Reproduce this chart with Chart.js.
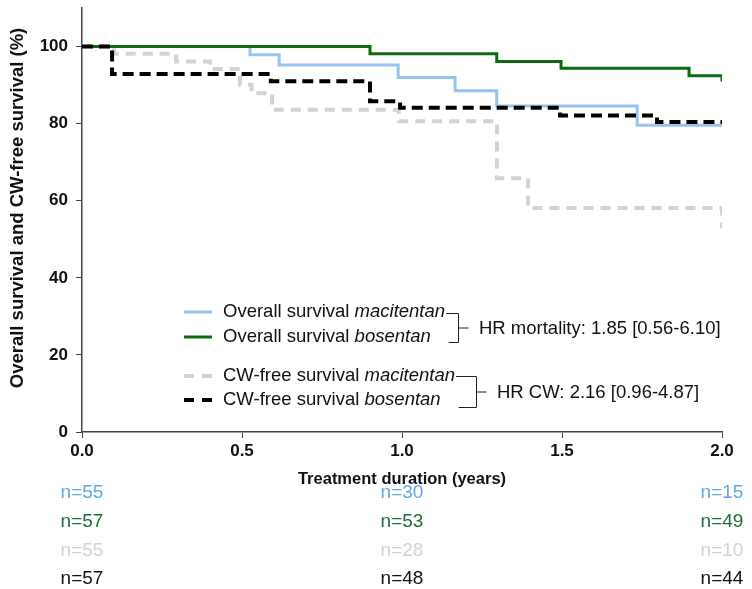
<!DOCTYPE html>
<html>
<head>
<meta charset="utf-8">
<script src="https://cdn.jsdelivr.net/npm/chart.js@4.4.1/dist/chart.umd.min.js"></script>
<style>
    html, body { margin: 0; padding: 0; background: #fff; }
    #survChart { display: block; }
</style>
</head>
<body>
<canvas id="survChart" width="752" height="589"></canvas>
<script>
// Kaplan-Meier steps (time in years, survival in %)
const macOsTime = [0, 0.525, 0.616, 0.988, 1.166, 1.296, 1.735, 2.0];
const macOsSurv = [100, 97.9, 95.2, 92.0, 88.5, 84.6, 79.6, 79.6];
const bosOsTime = [0, 0.9, 1.296, 1.497, 1.897, 2.0];
const bosOsSurv = [100, 98.1, 96.1, 94.4, 92.4, 90.9];
const macCwTime = [0, 0.1, 0.294, 0.4, 0.494, 0.53, 0.594, 0.99, 1.297, 1.394, 2.0];
const macCwSurv = [100, 98.1, 96.1, 94.2, 90.1, 87.9, 83.6, 80.6, 65.8, 58.1, 52.8];
const bosCwTime = [0, 0.094, 0.59, 0.9, 0.994, 1.494, 1.797, 2.0];
const bosCwSurv = [100, 92.9, 91.0, 85.8, 84.1, 82.1, 80.4, 80.4];

// numbers at risk
const riskTimes = [0, 1, 2];
const nMacOs = [55, 30, 15];
const nBosOs = [57, 53, 49];
const nMacCw = [55, 28, 10];
const nBosCw = [57, 48, 44];

const legendLabels = [
    ['Overall survival ', 'macitentan'],
    ['Overall survival ', 'bosentan'],
    ['CW-free survival ', 'macitentan'],
    ['CW-free survival ', 'bosentan'],
];
const hrLabels = ['HR mortality: 1.85 [0.56-6.10]', 'HR CW: 2.16 [0.96-4.87]'];
const yTitle = 'Overall survival and CW-free survival (%)';

const BLUE = '#97c3ef';
const GREEN = '#0c6a10';
const GREY = '#d3d3d3';
const BLACK = '#000000';
const FONT = '"Liberation Sans", Arial, sans-serif';

const toPoints = (times, values) => times.map((t, i) => ({ x: t, y: values[i] }));

const makeSeries = (times, values, color, dash, width, order) => ({
    data: toPoints(times, values),
    borderColor: color,
    borderWidth: width,
    borderDash: dash,
    stepped: 'before',
    pointRadius: 0,
    fill: false,
    order: order,
});

// legend, brackets, y title and risk table drawn on top of the chart
const annotations = {
    id: 'annotations',
    afterDraw(chart) {
        const ctx = chart.ctx;
        const x = chart.scales.x;
        ctx.save();

        // y axis title
        ctx.save();
        ctx.translate(18, 208);
        ctx.rotate(-Math.PI / 2);
        ctx.textAlign = 'center';
        ctx.textBaseline = 'middle';
        ctx.fillStyle = '#111';
        ctx.font = `bold 18.5px ${FONT}`;
        ctx.fillText(yTitle, 0, 0);
        ctx.restore();

        const rowsY = [312, 337, 376, 400];
        const styles = [
            { color: BLUE, dash: [], width: 3 },
            { color: GREEN, dash: [], width: 3 },
            { color: GREY, dash: [10, 8], width: 4 },
            { color: BLACK, dash: [10, 8], width: 4 },
        ];
        const textEnds = [];
        ctx.textBaseline = 'middle';
        legendLabels.forEach((label, i) => {
            const y = rowsY[i];
            ctx.beginPath();
            ctx.setLineDash(styles[i].dash);
            ctx.strokeStyle = styles[i].color;
            ctx.lineWidth = styles[i].width;
            ctx.moveTo(184, y);
            ctx.lineTo(212, y);
            ctx.stroke();
            ctx.setLineDash([]);

            ctx.fillStyle = '#111';
            ctx.font = `18.5px ${FONT}`;
            ctx.fillText(label[0], 223, y);
            const w0 = ctx.measureText(label[0]).width;
            ctx.font = `italic 18.5px ${FONT}`;
            ctx.fillText(label[1], 223 + w0, y);
            textEnds.push(223 + w0 + ctx.measureText(label[1]).width);
        });

        // brackets joining each pair of curves
        const bracket = (endTop, endBottom, bx, yTop, yBottom, text) => {
            const yMid = (yTop + yBottom) / 2;
            ctx.strokeStyle = '#222';
            ctx.lineWidth = 1;
            ctx.beginPath();
            ctx.moveTo(endTop + 1, yTop + 0.5);
            ctx.lineTo(bx + 0.5, yTop + 0.5);
            ctx.lineTo(bx + 0.5, yBottom + 0.5);
            ctx.lineTo(endBottom + 18, yBottom + 0.5);
            ctx.moveTo(bx + 0.5, yMid + 0.5);
            ctx.lineTo(bx + 10.5, yMid + 0.5);
            ctx.stroke();
            ctx.fillStyle = '#111';
            ctx.font = `18.5px ${FONT}`;
            ctx.fillText(text, bx + 21, yMid + 1);
        };
        bracket(textEnds[0], textEnds[1], 458, 313, 342, hrLabels[0]);
        bracket(textEnds[2], textEnds[3], 476, 376, 407, hrLabels[1]);

        // numbers at risk under the axis
        const riskRows = [
            { values: nMacOs, color: '#5fa6ea', y: 493 },
            { values: nBosOs, color: '#1d6e3c', y: 522 },
            { values: nMacCw, color: '#d3d3d3', y: 551 },
            { values: nBosCw, color: '#111111', y: 579 },
        ];
        ctx.font = `19px ${FONT}`;
        ctx.textAlign = 'center';
        riskRows.forEach((row) => {
            ctx.fillStyle = row.color;
            row.values.forEach((n, i) => {
                ctx.fillText(`n=${n}`, x.getPixelForValue(riskTimes[i]), row.y);
            });
        });
        ctx.restore();
    },
};

const ctx = document.getElementById('survChart').getContext('2d');
new Chart(ctx, {
    type: 'line',
    data: {
        datasets: [
            makeSeries(bosCwTime, bosCwSurv, BLACK, [11, 6], 4, 0),
            makeSeries(bosOsTime, bosOsSurv, GREEN, [], 3, 1),
            makeSeries(macOsTime, macOsSurv, BLUE, [], 3, 2),
            makeSeries(macCwTime, macCwSurv, GREY, [10, 7], 4, 3),
        ],
    },
    options: {
        responsive: false,
        animation: false,
        devicePixelRatio: 1,
        layout: { padding: { top: 8, right: 30, left: 0, bottom: 100 } },
        scales: {
            x: {
                type: 'linear',
                min: 0,
                max: 2,
                afterFit: (scale) => { scale.height = 57; },
                ticks: {
                    stepSize: 0.5,
                    padding: 3,
                    color: '#111',
                    font: { family: FONT, size: 17, weight: 'bold' },
                    callback: (v) => v.toFixed(1),
                },
                grid: { drawOnChartArea: false, tickLength: 6, color: '#444' },
                border: { color: '#444', width: 1.5 },
                title: {
                    display: true,
                    text: 'Treatment duration (years)',
                    color: '#111',
                    font: { family: FONT, size: 16.5, weight: 'bold' },
                    padding: 0,
                },
            },
            y: {
                min: 0,
                max: 110,
                afterFit: (scale) => {
                    scale.width = 82;
                    scale.paddingTop = 0;
                },
                ticks: {
                    stepSize: 20,
                    includeBounds: false,
                    padding: 8,
                    color: '#111',
                    font: { family: FONT, size: 17, weight: 'bold' },
                },
                grid: { drawOnChartArea: false, tickLength: 6, color: '#444' },
                border: { color: '#444', width: 1.5 },
                title: { display: false },
            },
        },
        plugins: {
            legend: { display: false },
            tooltip: { enabled: false },
        },
    },
    plugins: [annotations],
});
</script>
</body>
</html>
